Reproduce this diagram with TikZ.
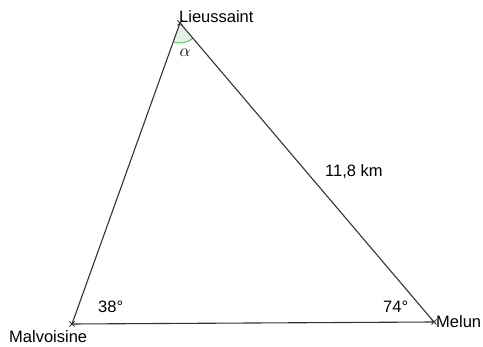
\documentclass[tikz,border=0pt]{standalone}
\usepackage{fontspec}
\setmainfont{Liberation Sans}
\usetikzlibrary{angles}
\begin{document}
\begin{tikzpicture}[x=1pt,y=-1pt,
  side/.style={draw=black!80,line width=1.1pt},
  lbl/.style={anchor=base west,inner sep=0pt,font=\fontsize{16.5}{19}\selectfont},
  vmark/.style={draw=black!80,line width=0.8pt}]
\useasboundingbox (0,0) rectangle (483,347);
\coordinate (L) at (180,23);
\coordinate (Mv) at (72,324);
\coordinate (Me) at (434,322);
\pic[draw=green!60!black!70,fill=green!40!black!10,line width=0.8pt,angle radius=20pt] {angle = Mv--L--Me};
\draw[side] (L) -- (Mv) -- (Me) -- cycle;
\foreach \p in {L,Mv,Me}{
  \draw[vmark] ([shift={(-2.5,-2.5)}]\p) -- ([shift={(2.5,2.5)}]\p);
  \draw[vmark] ([shift={(-2.5,2.5)}]\p) -- ([shift={(2.5,-2.5)}]\p);
}
\node[lbl] (tL) at (179,23) {Lieussaint};
\node[lbl] (tMv) at (9,343) {Malvoisine};
\node[lbl] (tMe) at (436,328) {Melun};
\node[lbl] (tD) at (325,177) {11,8 km};
\node[lbl] (tA) at (98,313) {38°};
\node[lbl] (tB) at (383,313) {74°};
\node[anchor=center,inner sep=0pt,font=\fontsize{16}{19}\selectfont] (tal) at (185,53) {$\alpha$};
\end{tikzpicture}
\end{document}
